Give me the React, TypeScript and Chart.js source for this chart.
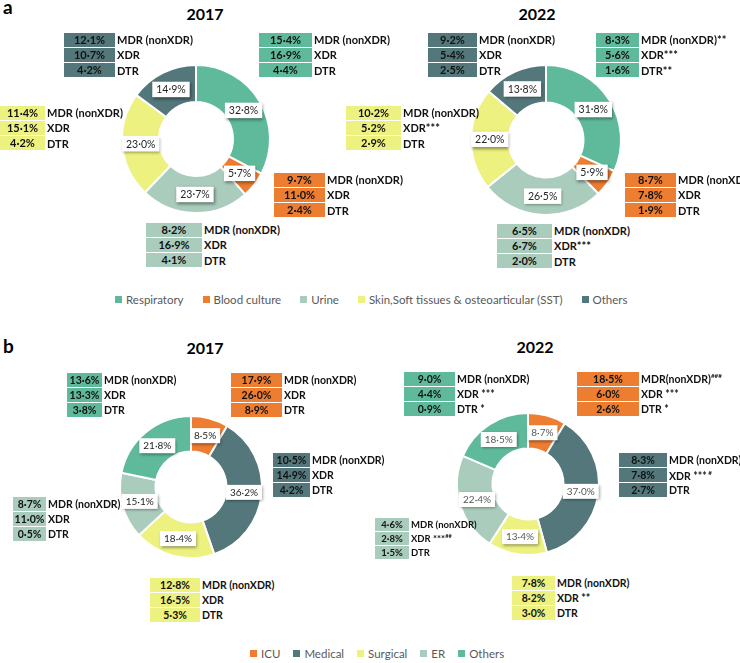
import React, { useEffect, useRef } from 'react';
import { Chart, registerables } from 'chart.js';
Chart.register(...registerables);

// ---------- DATA ----------
const catsA = ['Respiratory', 'Blood culture', 'Urine', 'Skin,Soft tissues & osteoarticular (SST)', 'Others'];
const shareA2017 = [32.8, 5.7, 23.7, 23.0, 14.9];
const shareA2022 = [31.8, 5.9, 26.5, 22.0, 13.8];
const mdrA2017 = [15.4, 9.7, 8.2, 11.4, 12.1];
const xdrA2017 = [16.9, 11.0, 16.9, 15.1, 10.7];
const dtrA2017 = [4.4, 2.4, 4.1, 4.2, 4.2];
const mdrA2022 = [8.3, 8.7, 6.5, 10.2, 9.2];
const xdrA2022 = [5.6, 7.8, 6.7, 5.2, 5.4];
const dtrA2022 = [1.6, 1.9, 2.0, 2.9, 2.5];
const mdrMarkA2022 = ['**', '', '', '', ''];
const xdrMarkA2022 = ['***', '', '***', '***', ''];
const dtrMarkA2022 = ['**', '', '', '', ''];

const catsB = ['ICU', 'Medical', 'Surgical', 'ER', 'Others'];
const shareB2017 = [8.5, 36.2, 18.4, 15.1, 21.8];
const shareB2022 = [8.7, 37.0, 13.4, 22.4, 18.5];
const mdrB2017 = [17.9, 10.5, 12.8, 8.7, 13.6];
const xdrB2017 = [26.0, 14.9, 16.5, 11.0, 13.3];
const dtrB2017 = [8.9, 4.2, 5.3, 0.5, 3.8];
const mdrB2022 = [18.5, 8.3, 7.8, 4.6, 9.0];
const xdrB2022 = [6.0, 7.8, 8.2, 2.8, 4.4];
const dtrB2022 = [2.6, 2.7, 3.0, 1.5, 0.9];
const mdrMarkB2022 = ['', '', '', '', ''];
const mdrSupB2022 = ['###', '', '', '', ''];
const xdrMarkB2022 = [' ***', ' ***', ' **', ' ***', ' ***'];
const xdrSupB2022 = ['', ' #', '', '##', ''];
const dtrMarkB2022 = [' *', '', '', '', ' *'];
const mdrLabelB2022 = ['MDR(nonXDR)', 'MDR (nonXDR)', 'MDR (nonXDR)', 'MDR (nonXDR)', 'MDR (nonXDR)'];

// ---------- STYLE ----------
const colorsA = ['#5FBA9B', '#ED7D31', '#A9CCBC', '#EDF17F', '#53777A'];
const colorsB = ['#ED7D31', '#53777A', '#EDF17F', '#A9CCBC', '#5FBA9B'];
const FONT = 'Lato, "Open Sans", sans-serif';

// box layout per category (same order as categories)
const boxA2017 = [
  { x: 259, y: 32, w: 53 }, { x: 274, y: 172, w: 51 }, { x: 146, y: 222, w: 56 },
  { x: 0, y: 105, w: 45 }, { x: 64, y: 32, w: 51 },
];
const boxA2022 = [
  { x: 596, y: 32, w: 43 }, { x: 625, y: 172, w: 51 }, { x: 497, y: 223, w: 55 },
  { x: 346, y: 105, w: 55 }, { x: 428, y: 32, w: 49 },
];
const boxB2017 = [
  { x: 231, y: 372, w: 51 }, { x: 273, y: 452, w: 37 }, { x: 150, y: 577, w: 50 },
  { x: 13, y: 496, w: 33 }, { x: 67, y: 372, w: 35 },
];
const boxB2022 = [
  { x: 577, y: 371, w: 62 }, { x: 619, y: 452, w: 48 }, { x: 512, y: 575, w: 43 },
  { x: 375, y: 517, w: 34, rowH: 14, fs: 9.5 }, { x: 404, y: 371, w: 51 },
];

const fmt = (v: number) => v.toFixed(1).replace('.', '\u00B7') + '%';

const sliceLabelPlugin = {
  id: 'sliceLabels',
  afterDatasetsDraw(chart: any, _args: any, opts: any) {
    const ctx = chart.ctx;
    const meta = chart.getDatasetMeta(0);
    const data = chart.data.datasets[0].data as number[];
    ctx.save();
    ctx.font = `${opts.size}px ${FONT}`;
    meta.data.forEach((arc: any, i: number) => {
      const p = arc.tooltipPosition();
      const text = fmt(data[i]);
      const w = ctx.measureText(text).width + 8;
      const h = opts.size + 5;
      ctx.shadowColor = 'rgba(0,0,0,0.45)';
      ctx.shadowBlur = 3;
      ctx.shadowOffsetX = 1;
      ctx.shadowOffsetY = 1.5;
      ctx.fillStyle = '#ffffff';
      ctx.fillRect(p.x - w / 2, p.y - h / 2, w, h);
      ctx.shadowColor = 'transparent';
      ctx.fillStyle = opts.color;
      ctx.textAlign = 'center';
      ctx.textBaseline = 'middle';
      ctx.fillText(text, p.x, p.y + 0.5);
    });
    ctx.restore();
  },
};

function Donut(props: { labels: string[]; values: number[]; colors: string[]; cx: number; cy: number; r: number; labelColor: string; labelSize: number }) {
  const ref = useRef<HTMLCanvasElement>(null);
  const size = props.r * 2 + 16;
  useEffect(() => {
    const chart = new Chart(ref.current as HTMLCanvasElement, {
      type: 'doughnut',
      data: {
        labels: props.labels,
        datasets: [{ data: props.values, backgroundColor: props.colors, borderColor: '#ffffff', borderWidth: 2 }],
      },
      options: {
        responsive: false,
        animation: false,
        radius: props.r,
        cutout: '50%',
        layout: { padding: 0 },
        plugins: {
          legend: { display: false },
          tooltip: { enabled: false },
          sliceLabels: { color: props.labelColor, size: props.labelSize },
        } as any,
      },
      plugins: [sliceLabelPlugin as any],
    });
    return () => chart.destroy();
  }, []);
  return (
    <canvas
      ref={ref}
      width={size}
      height={size}
      style={{ position: 'absolute', left: props.cx - size / 2, top: props.cy - size / 2, width: size, height: size }}
    />
  );
}

function ResBox(props: {
  x: number; y: number; w: number; rowH?: number; fs?: number; color: string;
  values: number[]; labels: React.ReactNode[];
}) {
  const rowH = props.rowH ?? 15.3;
  const fs = props.fs ?? 11;
  return (
    <div style={{ position: 'absolute', left: props.x, top: props.y }}>
      {props.values.map((v, i) => (
        <div key={i} style={{ display: 'flex', alignItems: 'center', height: rowH }}>
          <div
            style={{
              width: props.w, height: rowH - 1, background: props.color, color: '#111',
              fontWeight: 700, fontSize: fs, lineHeight: rowH - 1 + 'px', textAlign: 'center',
            }}
          >
            {fmt(v)}
          </div>
          <div style={{ marginLeft: 2, fontWeight: 700, fontSize: fs, whiteSpace: 'nowrap', color: '#111' }}>{props.labels[i]}</div>
        </div>
      ))}
    </div>
  );
}

function Legend(props: { x: number; y: number; labels: string[]; colors: string[]; gap: number; box: number }) {
  return (
    <div style={{ position: 'absolute', left: props.x, top: props.y, display: 'flex', alignItems: 'center', whiteSpace: 'nowrap' }}>
      {props.labels.map((l, i) => (
        <div key={i} style={{ display: 'flex', alignItems: 'center', marginRight: props.gap }}>
          <div style={{ width: props.box, height: props.box, background: props.colors[i], marginRight: 4 }} />
          <span style={{ fontSize: 11.5, color: '#595959' }}>{l}</span>
        </div>
      ))}
    </div>
  );
}

function Title(props: { x: number; y: number; text: string; size?: number; center?: boolean }) {
  return (
    <div
      style={{
        position: 'absolute', left: props.x, top: props.y, fontWeight: 700, fontSize: props.size ?? 16,
        transform: props.center === false ? undefined : 'translateX(-50%)', lineHeight: 1, color: '#000',
      }}
    >
      {props.text}
    </div>
  );
}

export default function App() {
  const boxesA = (layout: any[], mdr: number[], xdr: number[], dtr: number[], marks?: string[][]) =>
    layout.map((b, i) => (
      <ResBox
        key={i}
        {...b}
        color={colorsA[i]}
        values={[mdr[i], xdr[i], dtr[i]]}
        labels={[
          'MDR (nonXDR)' + (marks ? marks[0][i] : ''),
          'XDR' + (marks ? marks[1][i] : ''),
          'DTR' + (marks ? marks[2][i] : ''),
        ]}
      />
    ));
  const boxesB = (layout: any[], mdr: number[], xdr: number[], dtr: number[], is2022: boolean) =>
    layout.map((b, i) => (
      <ResBox
        key={i}
        fs={10.5}
        {...b}
        color={colorsB[i]}
        values={[mdr[i], xdr[i], dtr[i]]}
        labels={
          is2022
            ? [
                <>{mdrLabelB2022[i] + mdrMarkB2022[i]}{mdrSupB2022[i] && <sup style={{ fontSize: '0.6em' }}>{mdrSupB2022[i]}</sup>}</>,
                <>{'XDR' + xdrMarkB2022[i]}{xdrSupB2022[i] && <sup style={{ fontSize: '0.6em' }}>{xdrSupB2022[i]}</sup>}</>,
                'DTR' + dtrMarkB2022[i],
              ]
            : ['MDR (nonXDR)', 'XDR', 'DTR']
        }
      />
    ));

  return (
    <div
      style={{
        position: 'absolute', left: 0, top: 0, width: 740, height: 663, overflow: 'hidden',
        background: '#fff', fontFamily: FONT,
      }}
    >
      <Title x={3} y={-3} text="a" size={19} center={false} />
      <Title x={205} y={6} text="2017" />
      <Title x={537} y={6} text="2022" />
      <Donut labels={catsA} values={shareA2017} colors={colorsA} cx={196} cy={139} r={74} labelColor="#262626" labelSize={10.5} />
      <Donut labels={catsA} values={shareA2022} colors={colorsA} cx={546} cy={140} r={75} labelColor="#262626" labelSize={10.5} />
      {boxesA(boxA2017, mdrA2017, xdrA2017, dtrA2017)}
      {boxesA(boxA2022, mdrA2022, xdrA2022, dtrA2022, [mdrMarkA2022, xdrMarkA2022, dtrMarkA2022])}
      <Legend x={115} y={293} labels={catsA} colors={colorsA} gap={19} box={7} />

      <Title x={3} y={336} text="b" size={19} center={false} />
      <Title x={205} y={340} text="2017" />
      <Title x={535} y={339} text="2022" />
      <Donut labels={catsB} values={shareB2017} colors={colorsB} cx={191} cy={487} r={71} labelColor="#262626" labelSize={10} />
      <Donut labels={catsB} values={shareB2022} colors={colorsB} cx={528} cy={484} r={71} labelColor="#595959" labelSize={10} />
      {boxesB(boxB2017, mdrB2017, xdrB2017, dtrB2017, false)}
      {boxesB(boxB2022, mdrB2022, xdrB2022, dtrB2022, true)}
      <Legend x={250} y={647} labels={catsB} colors={colorsB} gap={13} box={7} />
    </div>
  );
}
